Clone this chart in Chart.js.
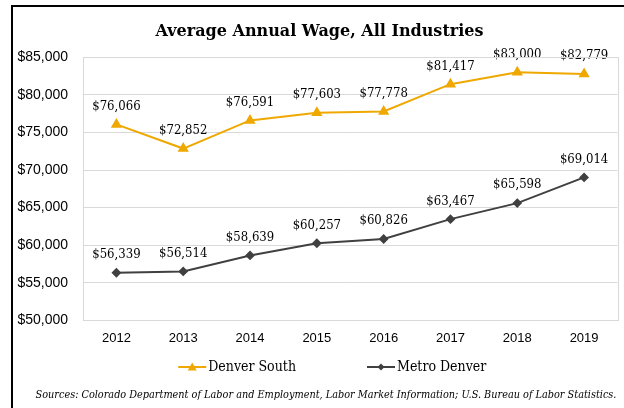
<!DOCTYPE html>
<html>
<head>
<meta charset="utf-8">
<script src="https://cdn.jsdelivr.net/npm/chart.js@4"></script>
<style>
  html, body { margin: 0; padding: 0; background: #fff; }
  #frame {
    position: absolute; left: 11px; top: 5px;
    width: 613px; height: 403px;
    border-left: 2px solid #000; border-top: 2px solid #000;
  }
  #wrap { position: absolute; left: 0; top: 0; width: 611px; height: 401px; }
</style>
</head>
<body>
<div id="frame"><div id="wrap"><canvas id="wageChart"></canvas></div></div>
<script>
// Chart data
const years = ['2012', '2013', '2014', '2015', '2016', '2017', '2018', '2019'];
const denverSouth = [76066, 72852, 76591, 77603, 77778, 81417, 83000, 82779];
const metroDenver = [56339, 56514, 58639, 60257, 60826, 63467, 65598, 69014];
const sourceNote = 'Sources: Colorado Department of Labor and Employment, Labor Market Information; U.S. Bureau of Labor Statistics.';

const GOLD = '#EFA800';
const DARK = '#404040';
const GRID = '#d9d9d9';

const SERIF = '"DejaVu Serif Condensed", "DejaVu Serif", serif';
const LABEL_FONT = '13px ' + SERIF;

function money(v) {
  return '$' + v.toLocaleString('en-US');
}

const plotBorder = {
  id: 'plotBorder',
  afterDraw(chart) {
    const { ctx, chartArea: a } = chart;
    ctx.save();
    ctx.strokeStyle = GRID;
    ctx.lineWidth = 1;
    ctx.strokeRect(Math.round(a.left) + 0.5, Math.round(a.top) + 0.5,
      Math.round(a.right - a.left), Math.round(a.bottom - a.top));
    ctx.restore();
  }
};

const valueLabels = {
  id: 'valueLabels',
  afterDatasetsDraw(chart) {
    const ctx = chart.ctx;
    ctx.save();
    ctx.font = LABEL_FONT;
    ctx.fillStyle = '#000';
    ctx.textAlign = 'center';
    ctx.textBaseline = 'middle';
    chart.data.datasets.forEach((ds, i) => {
      chart.getDatasetMeta(i).data.forEach((pt, j) => {
        ctx.fillText(money(ds.data[j]), pt.x, pt.y - 18);
      });
    });
    ctx.restore();
  }
};

// legend (line + marker swatch) and source note, drawn under the axis
function drawMarker(ctx, style, x, y) {
  ctx.beginPath();
  if (style === 'triangle') {
    ctx.moveTo(x, y - 4.5); ctx.lineTo(x + 4.5, y + 3.5); ctx.lineTo(x - 4.5, y + 3.5);
  } else {
    ctx.moveTo(x, y - 3.5); ctx.lineTo(x + 3.5, y); ctx.lineTo(x, y + 3.5); ctx.lineTo(x - 3.5, y);
  }
  ctx.closePath();
  ctx.fill();
}

const bottomLegend = {
  id: 'bottomLegend',
  afterDraw(chart) {
    const { ctx, chartArea: a } = chart;
    const sw = 28, gapText = 2, gapItem = 71;
    const y = 360;
    ctx.save();
    ctx.font = '14px ' + SERIF;
    const items = chart.data.datasets.map(ds => ({
      text: ds.label, color: ds.borderColor, style: ds.pointStyle,
      w: ctx.measureText(ds.label).width
    }));
    let total = items.reduce((s, it) => s + sw + gapText + it.w, 0) + gapItem * (items.length - 1);
    let x = (a.left + a.right) / 2 - 18 - total / 2;
    ctx.textBaseline = 'middle';
    ctx.textAlign = 'left';
    items.forEach(it => {
      ctx.strokeStyle = it.color;
      ctx.fillStyle = it.color;
      ctx.lineWidth = 2;
      ctx.beginPath();
      ctx.moveTo(x, y); ctx.lineTo(x + sw, y);
      ctx.stroke();
      drawMarker(ctx, it.style, x + sw / 2, y);
      ctx.fillStyle = '#000';
      ctx.fillText(it.text, x + sw + gapText, y);
      x += sw + gapText + it.w + gapItem;
    });
    ctx.font = 'italic 10.8px ' + SERIF;
    ctx.textAlign = 'center';
    ctx.fillText(sourceNote, 313, 388);
    ctx.restore();
  }
};

new Chart(document.getElementById('wageChart'), {
  type: 'line',
  data: {
    labels: years,
    datasets: [
      {
        label: 'Denver South',
        data: denverSouth,
        borderColor: GOLD,
        backgroundColor: GOLD,
        borderWidth: 2,
        pointStyle: 'triangle',
        pointRadius: 4.5,
        tension: 0
      },
      {
        label: 'Metro Denver',
        data: metroDenver,
        borderColor: DARK,
        backgroundColor: DARK,
        borderWidth: 2,
        pointStyle: 'rectRot',
        pointRadius: 3.5,
        tension: 0
      }
    ]
  },
  plugins: [plotBorder, valueLabels, bottomLegend],
  options: {
    responsive: true,
    maintainAspectRatio: false,
    animation: false,
    layout: { padding: { left: 4, right: 2, top: 0, bottom: 52 } },
    scales: {
      x: {
        offset: true,
        grid: { display: false, drawTicks: false },
        border: { display: false },
        ticks: {
          padding: 10,
          color: '#000',
          font: { family: '"Liberation Sans", Arial, sans-serif', size: 13 }
        }
      },
      y: {
        min: 50000,
        max: 85000,
        afterFit: scale => { scale.width = 66; },
        grid: { color: GRID, drawTicks: false },
        border: { display: false },
        ticks: {
          stepSize: 5000,
          padding: 15,
          color: '#000',
          font: { family: '"Liberation Sans", Arial, sans-serif', size: 14 },
          callback: v => money(v)
        }
      }
    },
    plugins: {
      title: {
        display: true,
        text: 'Average Annual Wage, All Industries',
        color: '#000',
        font: { family: '"DejaVu Serif", serif', size: 16, weight: 'bold' },
        padding: { top: 15, bottom: 16 }
      },
      legend: { display: false },
      tooltip: { enabled: false }
    }
  }
});
</script>
</body>
</html>
